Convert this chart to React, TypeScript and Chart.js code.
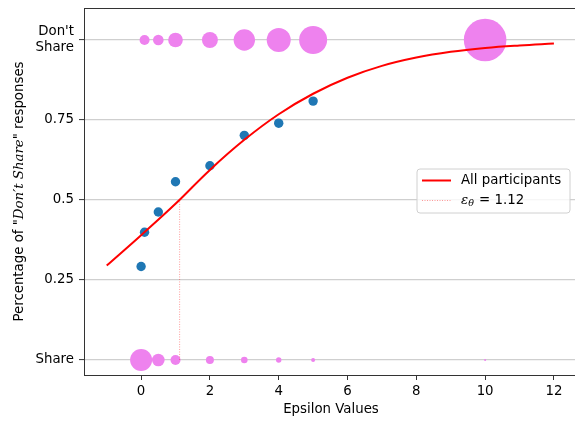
import React, { useEffect, useRef } from "react";
import { Chart, registerables } from "chart.js";
Chart.register(...registerables);

// Observed share of "Don't Share" answers per epsilon
const epsilonValues = [0, 0.1, 0.5, 1, 2, 3, 4, 5];
const dontShareRate = [0.292, 0.399, 0.4625, 0.557, 0.607, 0.702, 0.74, 0.809];

// Fitted curve (All participants)
const fitX = [-1, 0, 1, 2, 3, 4, 5, 6, 7, 8, 9, 10, 11, 12];
const fitY = [0.295, 0.39, 0.488, 0.594, 0.688, 0.768, 0.832, 0.882, 0.919, 0.945, 0.963, 0.975, 0.983, 0.989];

const epsilonTheta = 1.12;

// Bubble rows (radius of each bubble)
const dontShareX = [0.1, 0.5, 1, 2, 3, 4, 5, 10];
const dontShareSize = [5, 5.3, 7.3, 8, 10.7, 12, 14, 21.3];
const shareX = [0, 0.5, 1, 2, 3, 4, 5, 10];
const shareSize = [11, 6.3, 5, 4, 3.3, 2.7, 2, 1];

const yTickValues = [0, 0.25, 0.5, 0.75, 1];
const yTickLabels: (string | string[])[] = ["Share", "0.25", "0.5", "0.75", ["Don't", "Share"]];
const xTickValues = [0, 2, 4, 6, 8, 10, 12];

const SANS = '"DejaVu Sans", sans-serif';
const SERIF = '"DejaVu Serif", serif';
const FS = 13.33;

const zeroPadding = (s: any) => {
  s.paddingLeft = 0;
  s.paddingRight = 0;
  s.paddingTop = 0;
  s.paddingBottom = 0;
};

const decorPlugin = {
  id: "decor",
  afterDraw(chart: any) {
    const { ctx, chartArea } = chart;
    ctx.save();
    // top spine
    ctx.strokeStyle = "#333";
    ctx.lineWidth = 1;
    ctx.beginPath();
    ctx.moveTo(chartArea.left, chartArea.top + 0.5);
    ctx.lineTo(chartArea.right, chartArea.top + 0.5);
    ctx.stroke();

    // y axis title with italic part
    const parts = [
      { t: 'Percentage of "', f: `${FS}px ${SANS}` },
      { t: "Don\u2032t Share", f: `italic ${FS}px ${SERIF}` },
      { t: '" responses', f: `${FS}px ${SANS}` },
    ];
    let total = 0;
    const widths = parts.map((p) => {
      ctx.font = p.f;
      const w = ctx.measureText(p.t).width;
      total += w;
      return w;
    });
    ctx.translate(20, (chartArea.top + chartArea.bottom) / 2);
    ctx.rotate(-Math.PI / 2);
    ctx.fillStyle = "#000";
    ctx.textBaseline = "middle";
    ctx.textAlign = "left";
    let x = -total / 2;
    parts.forEach((p, i) => {
      ctx.font = p.f;
      ctx.fillText(p.t, x, 0);
      x += widths[i];
    });
    ctx.restore();

    // legend
    ctx.save();
    const bx = 417, by = 169, bw = 153, bh = 44, r = 3;
    ctx.beginPath();
    ctx.moveTo(bx + r, by);
    ctx.lineTo(bx + bw - r, by);
    ctx.arcTo(bx + bw, by, bx + bw, by + r, r);
    ctx.lineTo(bx + bw, by + bh - r);
    ctx.arcTo(bx + bw, by + bh, bx + bw - r, by + bh, r);
    ctx.lineTo(bx + r, by + bh);
    ctx.arcTo(bx, by + bh, bx, by + bh - r, r);
    ctx.lineTo(bx, by + r);
    ctx.arcTo(bx, by, bx + r, by, r);
    ctx.closePath();
    ctx.fillStyle = "rgba(255,255,255,0.8)";
    ctx.fill();
    ctx.strokeStyle = "#d0d0d0";
    ctx.lineWidth = 1;
    ctx.stroke();

    ctx.strokeStyle = "red";
    ctx.lineWidth = 2;
    ctx.beginPath();
    ctx.moveTo(422, 180.5);
    ctx.lineTo(451, 180.5);
    ctx.stroke();

    ctx.strokeStyle = "rgba(255,0,0,0.4)";
    ctx.lineWidth = 1;
    ctx.setLineDash([1, 1.5]);
    ctx.beginPath();
    ctx.moveTo(422, 200.5);
    ctx.lineTo(451, 200.5);
    ctx.stroke();
    ctx.setLineDash([]);

    ctx.fillStyle = "#000";
    ctx.textBaseline = "middle";
    ctx.textAlign = "left";
    ctx.font = `${FS}px ${SANS}`;
    ctx.fillText("All participants", 461, 181);
    ctx.font = `italic ${FS}px ${SERIF}`;
    ctx.fillText("\u03b5", 461, 201);
    const ew = ctx.measureText("\u03b5").width;
    ctx.font = `italic 9.5px ${SERIF}`;
    ctx.fillText("\u03b8", 461 + ew, 204);
    const tw = ctx.measureText("\u03b8").width;
    ctx.font = `${FS}px ${SANS}`;
    ctx.fillText(" = " + epsilonTheta.toFixed(2), 461 + ew + tw + 1, 201);
    ctx.restore();
  },
};

export default function App() {
  const ref = useRef<HTMLCanvasElement | null>(null);

  useEffect(() => {
    if (!ref.current) return;
    const chart = new Chart(ref.current, {
      type: "scatter",
      data: {
        datasets: [
          {
            type: "line",
            label: "All participants",
            data: fitX.map((x, i) => ({ x, y: fitY[i] })),
            borderColor: "red",
            borderWidth: 2,
            pointRadius: 0,
            fill: false,
            tension: 0.4,
            order: 0,
          } as any,
          {
            type: "line",
            label: "threshold",
            data: [
              { x: epsilonTheta, y: 0 },
              { x: epsilonTheta, y: 0.5 },
            ],
            borderColor: "rgba(255,0,0,0.4)",
            borderWidth: 1,
            borderDash: [1, 1.5],
            pointRadius: 0,
            fill: false,
            order: 1,
          } as any,
          {
            label: "rate",
            data: epsilonValues.map((x, i) => ({ x, y: dontShareRate[i] })),
            backgroundColor: "#1f77b4",
            borderWidth: 0,
            pointRadius: 4.7,
            order: 1,
          },
          {
            type: "bubble",
            label: "Don't Share",
            data: dontShareX.map((x, i) => ({ x, y: 1, r: dontShareSize[i] })),
            backgroundColor: "#ee82ee",
            borderWidth: 0,
            order: 2,
          } as any,
          {
            type: "bubble",
            label: "Share",
            data: shareX.map((x, i) => ({ x, y: 0, r: shareSize[i] })),
            backgroundColor: "#ee82ee",
            borderWidth: 0,
            order: 2,
          } as any,
        ],
      },
      options: {
        responsive: false,
        animation: false,
        devicePixelRatio: 1,
        layout: { autoPadding: false, padding: { top: 8, right: 2, left: 0, bottom: 0 } },
        plugins: { legend: { display: false }, tooltip: { enabled: false } },
        scales: {
          x: {
            type: "linear",
            min: -1.66,
            max: 12.7,
            afterBuildTicks: (s: any) => {
              s.ticks = xTickValues.map((v) => ({ value: v }));
            },
            afterFit: (s: any) => {
              s.height = 47;
              zeroPadding(s);
            },
            grid: {
              drawOnChartArea: false,
              drawTicks: true,
              tickLength: 5,
              tickColor: "#333",
              tickWidth: 1,
            },
            border: { display: true, color: "#333", width: 1 },
            ticks: {
              color: "#000",
              font: { family: SANS, size: FS },
              padding: 4,
              maxRotation: 0,
              callback: (v: any) => String(v),
            },
            title: {
              display: true,
              text: "Epsilon Values",
              color: "#000",
              font: { family: SANS, size: FS },
              padding: { top: 0, bottom: 4 },
            },
          },
          y: {
            type: "linear",
            min: -0.047,
            max: 1.1,
            afterBuildTicks: (s: any) => {
              s.ticks = yTickValues.map((v) => ({ value: v }));
            },
            afterFit: (s: any) => {
              s.width = 84;
              zeroPadding(s);
            },
            grid: {
              color: "#cfcfcf",
              lineWidth: 1.2,
              drawTicks: true,
              tickLength: 5,
              tickColor: "#333",
              tickWidth: 1,
            },
            border: { display: true, color: "#333", width: 1 },
            ticks: {
              color: "#000",
              font: { family: SANS, size: FS, lineHeight: 1.2 },
              padding: 5,
              callback: (v: any) => {
                const i = yTickValues.indexOf(Number(v));
                return i >= 0 ? yTickLabels[i] : "";
              },
            },
          },
        },
      },
      plugins: [decorPlugin],
    });
    return () => chart.destroy();
  }, []);

  return (
    <div
      style={{
        position: "fixed",
        left: 0,
        top: 0,
        width: 575,
        height: 422,
        overflow: "hidden",
        background: "#fff",
      }}
    >
      <canvas ref={ref} width={580} height={422} style={{ display: "block" }} />
    </div>
  );
}
